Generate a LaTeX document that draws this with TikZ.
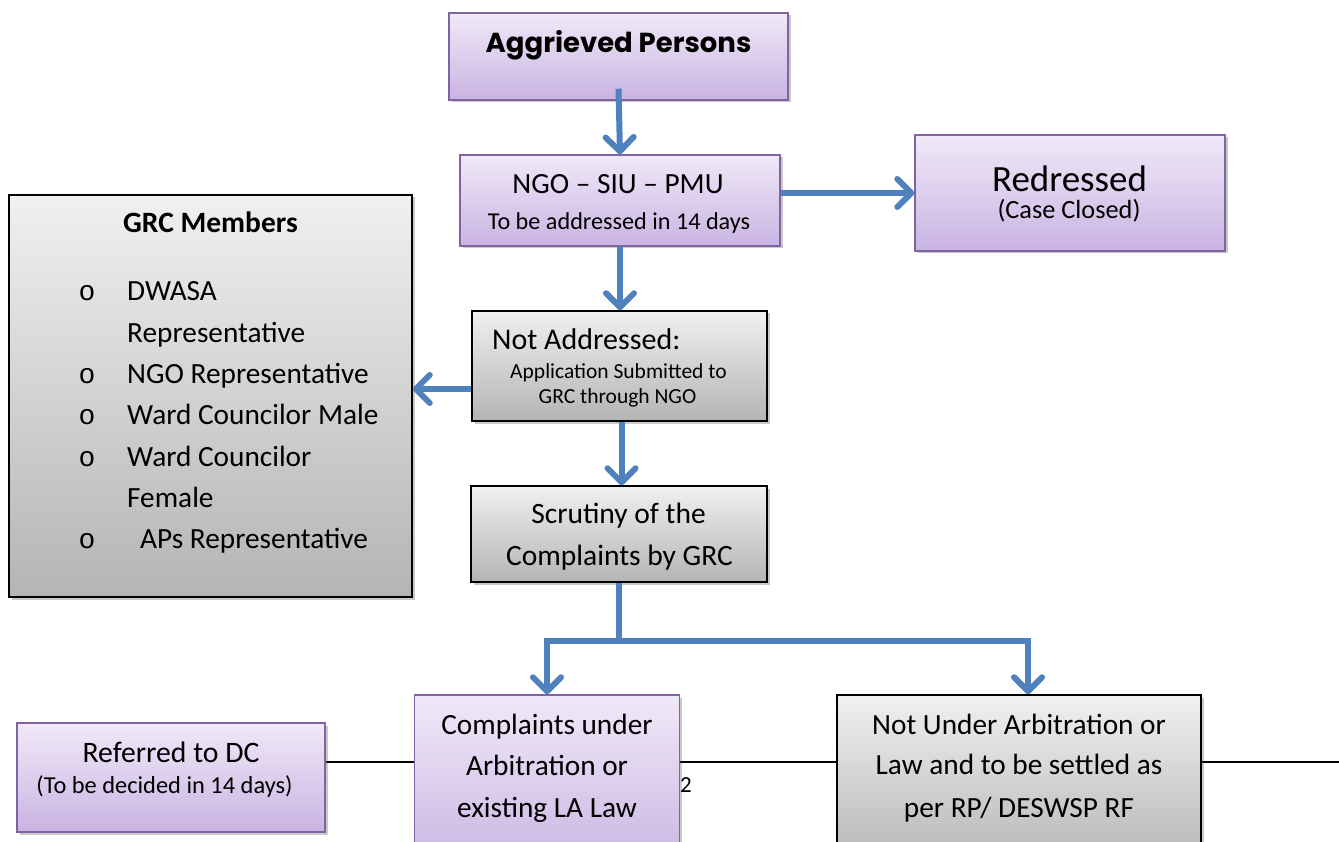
\documentclass[tikz,border=0pt]{standalone}
\usepackage{fontspec}
\setmainfont{Carlito}
\newfontfamily\gothic{Poppins}
\newfontfamily\monofnt{Liberation Mono}
\usetikzlibrary{arrows.meta,shadows,backgrounds}
\definecolor{arrowblue}{HTML}{4F81BD}
\definecolor{boxpurple}{HTML}{8064A2}
\definecolor{ptop}{HTML}{F0E9F8}
\definecolor{pbot}{HTML}{C9B4E2}
\definecolor{gtop}{HTML}{F0F0F0}
\definecolor{gbot}{HTML}{B4B4B4}
\newcommand{\fs}[1]{\fontsize{#1}{#1}\selectfont}
\tikzset{
  box/.style={rectangle, inner sep=0pt, line width=1.5pt,
    drop shadow={shadow xshift=2.5pt, shadow yshift=-2.5pt, opacity=0.3, fill=black!70}},
  pbox/.style={box, draw=boxpurple, top color=ptop, bottom color=pbot},
  gbox/.style={box, draw=black, top color=gtop, bottom color=gbot},
  txt/.style={anchor=base, inner sep=0pt},
  ltxt/.style={anchor=base west, inner sep=0pt, font=\fs{29.3}},
  bul/.style={anchor=base, inner sep=0pt, font=\monofnt\fs{28}},
  arr/.style={draw=arrowblue, line width=6pt,
    -{Straight Barb[length=14pt, width=28pt, round]}},
}
\begin{document}
\begin{tikzpicture}[x=1pt,y=-1pt]
\useasboundingbox (0,0) rectangle (1339,842);
\clip (0,0) rectangle (1339,842);

% boxes
\node[pbox, minimum width=339pt, minimum height=87pt] (agg) at (618.5,56.5) {};
\node[txt, font=\gothic\bfseries\fs{27.5}] (aggt) at (618.5,53) {Aggrieved Persons};

\node[pbox, minimum width=320pt, minimum height=91pt] (ngo) at (620,200.5) {};
\node[txt, font=\fs{29.3}] (ngot1) at (618,194) {NGO – SIU – PMU};
\node[txt, font=\fs{24.2}] (ngot2) at (619,230) {To be addressed in 14 days};

\node[pbox, minimum width=310pt, minimum height=116pt] (red) at (1070,193) {};
\node[txt, font=\fs{37}] (redt1) at (1069.5,192) {Redressed};
\node[txt, font=\fs{26.3}] (redt2) at (1069,219) {(Case Closed)};

\node[gbox, minimum width=403pt, minimum height=402pt] (grc) at (210.5,396) {};
\node[txt, font=\bfseries\fs{29.5}] (grct) at (210.5,233) {GRC Members};
\node[bul] (b1) at (87,301) {o};
\node[ltxt] (g1) at (127,301) {DWASA};
\node[ltxt] (g2) at (127,343) {Representative};
\node[bul] (b2) at (87,383) {o};
\node[ltxt] (g3) at (127,383) {NGO Representative};
\node[bul] (b3) at (87,424) {o};
\node[ltxt] (g4) at (127,424) {Ward Councilor Male};
\node[bul] (b4) at (87,466) {o};
\node[ltxt] (g5) at (127,466) {Ward Councilor};
\node[ltxt] (g6) at (127,507) {Female};
\node[bul] (b5) at (87,548) {o};
\node[ltxt] (g7) at (140,548) {APs Representative};

\node[gbox, minimum width=295pt, minimum height=110pt] (na) at (619.5,366) {};
\node[anchor=base west, inner sep=0pt, font=\fs{30}] (nat1) at (492,350) {Not Addressed:};
\node[txt, font=\fs{21.5}] (nat2) at (618.5,378) {Application Submitted to};
\node[txt, font=\fs{21.5}] (nat3) at (617.5,403) {GRC through NGO};

\node[gbox, minimum width=296pt, minimum height=96pt] (scr) at (619,534) {};
\node[txt, font=\fs{29.5}] (scrt1) at (618.5,523) {Scrutiny of the};
\node[txt, font=\fs{29.5}] (scrt2) at (619.5,565) {Complaints by GRC};

\node[pbox, minimum width=308pt, minimum height=109pt] (dc) at (171,777.5) {};
\node[txt, font=\fs{29.7}] (dct1) at (171,762) {Referred to DC};
\node[txt, font=\fs{24.4}] (dct2) at (164.5,793) {(To be decided in 14 days)};

\node[pbox, minimum width=265pt, minimum height=176pt] (arb) at (547,783) {};
\node[txt, font=\fs{29.3}] (arbt1) at (547,734) {Complaints under};
\node[txt, font=\fs{29.3}] (arbt2) at (547,775) {Arbitration or};
\node[txt, font=\fs{29.3}] (arbt3) at (547,817) {existing LA Law};

\node[gbox, minimum width=364pt, minimum height=176pt] (notarb) at (1019,783) {};
\node[txt, font=\fs{29.3}] (nat1b) at (1019,734) {Not Under Arbitration or};
\node[txt, font=\fs{29.3}] (nat2b) at (1019,774) {Law and to be settled as};
\node[txt, font=\fs{29.3}] (nat3b) at (1019,817) {per RP/ DESWSP RF};

\node[txt, font=\fs{23}] (two) at (686,792) {2};

% black rule behind the bottom boxes
\coordinate (lineend) at (1339,762);
\begin{scope}[on background layer]
  \draw[line width=1.5pt] (dc.east |- lineend) -- (lineend);
\end{scope}

% arrows
\draw[arr] ([yshift=12pt]agg.south) -- (ngo.north);
\draw[arr] (ngo.east |- red.west) -- (red.west);
\draw[arr] (ngo.south) -- (ngo.south |- na.north);
\draw[arr] ([yshift=-23pt]na.west) -- ([yshift=-23pt]na.west -| grc.east);
\draw[arr] ([xshift=2pt]na.south) -- ([xshift=2pt]na.south |- scr.north);
\coordinate (split) at (619,641);
\draw[arr] (scr.south) -- (split) -| (arb.north);
\draw[arr] (split) -| ([xshift=9pt]notarb.north);
\end{tikzpicture}
\end{document}
